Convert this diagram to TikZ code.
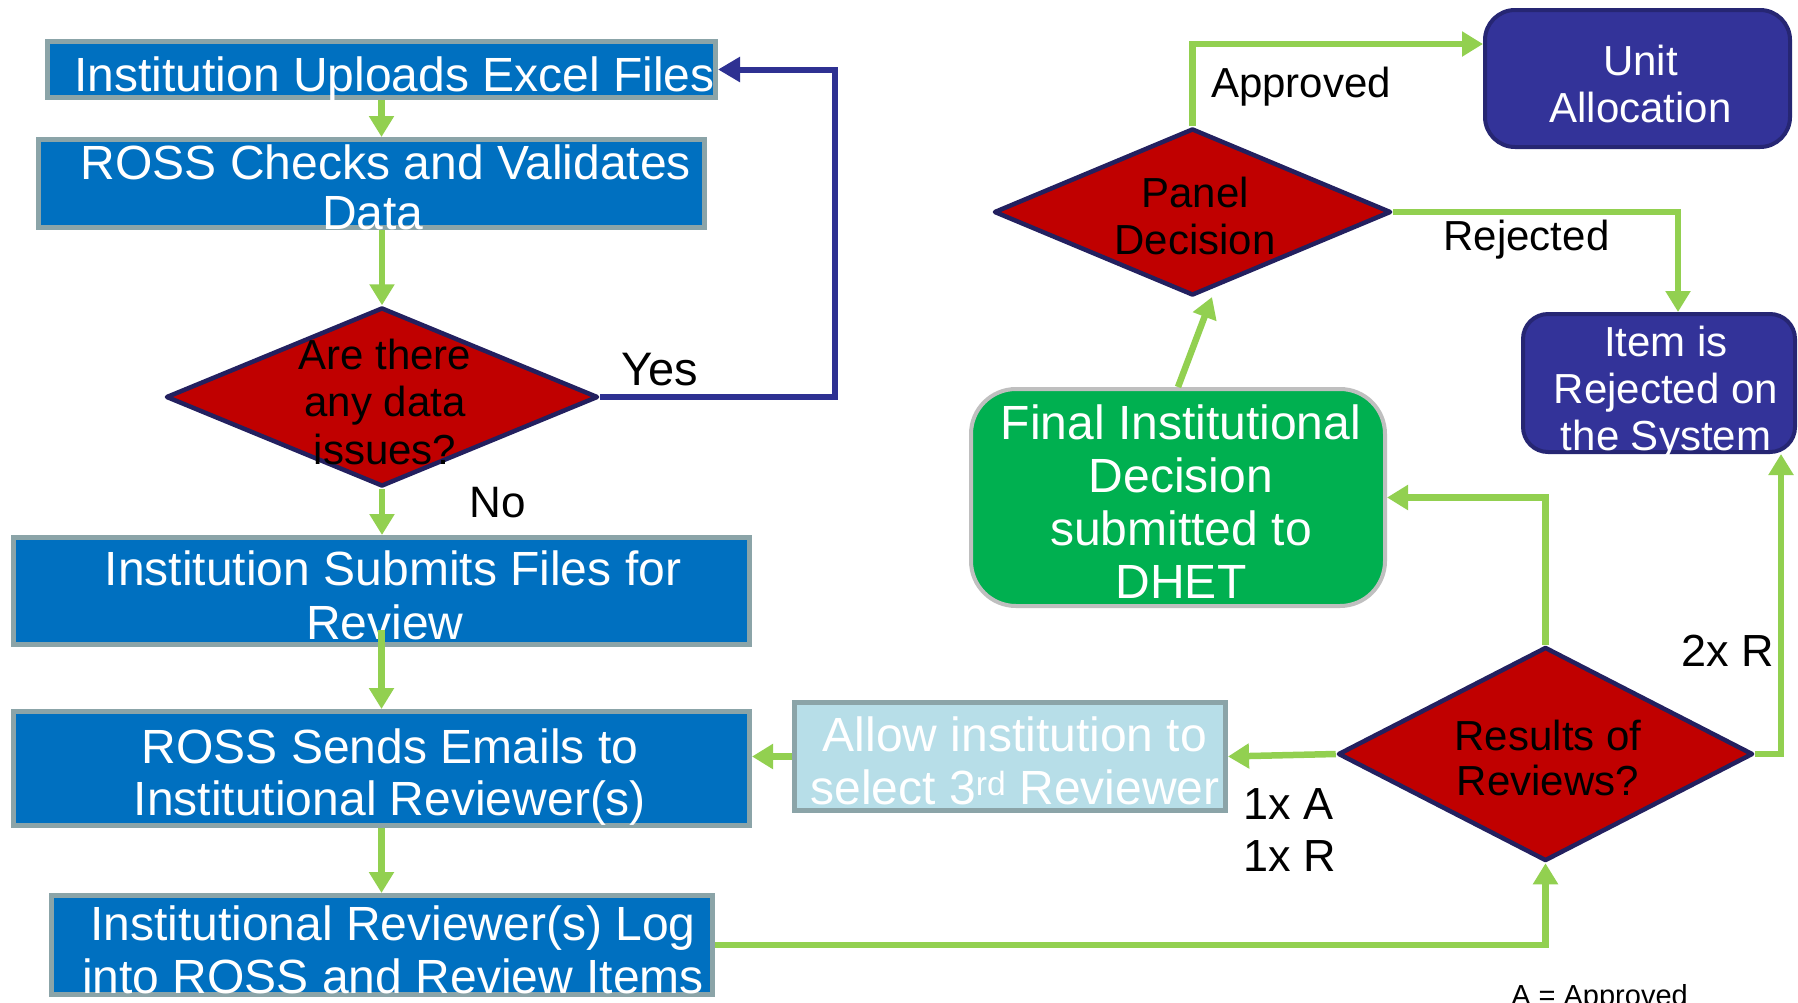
\documentclass[tikz,border=0pt]{standalone}
\usepackage{fontspec}
\setmainfont{Liberation Sans}
\usetikzlibrary{arrows.meta,shapes.geometric,calc}
\definecolor{bluefill}{HTML}{0070C0}
\definecolor{boxborder}{HTML}{8BA4A8}
\definecolor{arrowgreen}{HTML}{92D050}
\definecolor{redfill}{HTML}{C00000}
\definecolor{navyborder}{HTML}{23205F}
\definecolor{lineblue}{HTML}{2E3192}
\definecolor{purplefill}{HTML}{333399}
\definecolor{purpleborder}{HTML}{262673}
\definecolor{finalfill}{HTML}{00B050}
\definecolor{finalborder}{HTML}{BFBFBF}
\definecolor{allowfill}{HTML}{B7DEE8}
\newcommand\lstr{\rule[-0.25em]{0pt}{1.216em}}
\newcommand\myfs[2]{\fontsize{#1}{#2}\selectfont\lineskiplimit=-\maxdimen}
\begin{document}
\begin{tikzpicture}[x=1pt,y=-1pt,
  box/.style={draw=boxborder, line width=5pt, fill=bluefill, rectangle, inner sep=0pt},
  dia/.style={diamond, draw=navyborder, line width=4.5pt, fill=redfill, inner sep=0pt, line join=round},
  rbox/.style={rectangle, rounded corners=30pt, draw=purpleborder, fill=purplefill, line width=4pt, inner sep=0pt},
  txt/.style={inner sep=0pt, align=center},
  garrow/.style={draw=arrowgreen, line width=6.5pt, -{Triangle[length=21pt,width=24pt]}},
  barrow/.style={draw=lineblue, line width=6pt, -{Triangle[length=22pt,width=24pt]}}
]
\fill[white] (0,0) rectangle (1798,1002);
\useasboundingbox (0,0) rectangle (1798,1002);

% shapes
\node[box, minimum width=668pt, minimum height=56pt] (b1) at (381.5,69.5) {};
\node[box, minimum width=666pt, minimum height=88pt] (b2) at (371.5,183.5) {};
\node[box, minimum width=736pt, minimum height=107pt] (b3) at (381.5,591) {};
\node[box, minimum width=736pt, minimum height=114pt] (b4) at (381.5,768.5) {};
\node[box, minimum width=661pt, minimum height=99pt] (b5) at (382,945) {};
\node[box, fill=allowfill, minimum width=431pt, minimum height=108pt] (al) at (1010,756.5) {};
\node[dia, minimum width=432pt, minimum height=179pt] (d1) at (382,397) {};
\node[dia, minimum width=397pt, minimum height=167pt] (pd) at (1192.5,212) {};
\node[dia, minimum width=415pt, minimum height=214pt] (rs) at (1545.5,754) {};
\node[rbox, minimum width=305pt, minimum height=137pt] (un) at (1637.5,78.5) {};
\node[rbox, rounded corners=25pt, minimum width=272pt, minimum height=138pt] (it) at (1659,383) {};
\node[rbox, rounded corners=45pt, draw=finalborder, fill=finalfill, minimum width=414pt, minimum height=217pt] (fi) at (1178,497.5) {};

% texts
\node[txt, text=white, font=\myfs{48}{52}] (t1) at (394.5,74) {\lstr Institution Uploads Excel Files};
\node[txt, text=white, font=\myfs{48}{50}] (t2) at (373,187) {\lstr\hspace*{26pt}ROSS Checks and Validates\\\lstr Data};
\node[txt, text=white, font=\myfs{48}{54}] (t3) at (385,595) {\lstr\hspace*{16pt}Institution Submits Files for\\\lstr Review};
\node[txt, text=white, font=\myfs{48}{52}] (t4) at (390,772.5) {\lstr ROSS Sends Emails to\\\lstr Institutional Reviewer(s)};
\node[txt, text=white, font=\myfs{48}{52.5}] (t5) at (393,950) {\lstr Institutional Reviewer(s) Log\\\lstr into ROSS and Review Items};
\node[txt, text=white, font=\myfs{48}{53.5}] (t6) at (1015,761) {\lstr Allow institution to\\\lstr select 3\textsuperscript{rd} Reviewer};
\node[txt, text=white, font=\myfs{48}{53}] (t7) at (1181,502) {\lstr Final Institutional\\\lstr Decision\\\lstr submitted to\\\lstr DHET};
\node[txt, font=\myfs{42}{47.7}] (t8) at (385,401.7) {\lstr Are there\\\lstr any data\\\lstr issues?};
\node[txt, font=\myfs{42}{46.5}] (t9) at (1195,216) {\lstr Panel\\\lstr Decision};
\node[txt, font=\myfs{42}{45}] (t10) at (1548,757.5) {\lstr Results of\\\lstr Reviews?};
\node[txt, text=white, font=\myfs{42}{47}] (t11) at (1640.5,84) {\lstr Unit\\\lstr Allocation};
\node[txt, text=white, font=\myfs{42}{47}] (t12) at (1666,388.5) {\lstr Item is\\\lstr Rejected on\\\lstr the System};
\node[txt, font=\myfs{47}{50}] (lyes) at (660,369) {\lstr Yes};
\node[txt, font=\myfs{44}{48}] (lno) at (498,501.5) {\lstr No};
\node[txt, font=\myfs{42}{46}] (lapp) at (1301,82.5) {\lstr Approved};
\node[txt, font=\myfs{42}{46}] (lrej) at (1526.5,235) {\lstr Rejected};
\node[txt, font=\myfs{45}{48}] (l2r) at (1728,650) {\lstr 2x R};
\node[txt, align=left, anchor=west, font=\myfs{45}{52}] (l1a) at (1243,829) {\lstr 1x A\\\lstr 1x R};
\node[txt, font=\myfs{29}{32}] (leg) at (1599.5,995.4) {\lstr A = Approved};

% helper coordinates
\coordinate (bx) at (835,0);
\coordinate (ap) at (0,44);
\coordinate (rj) at (1678,0);
\coordinate (rx) at (1781,0);
\coordinate (pdin) at (1212,297);

% connectors
\draw[garrow] (b1.south) -- (b1.south |- b2.north);
\draw[garrow] (b2.south -| d1.north) -- (d1.north);
\draw[garrow] (d1.south) -- (d1.south |- b3.north);
\draw[garrow] ([yshift=17pt]b3.south) -- (b4.north);
\draw[garrow] (b4.south) -- (b4.south |- b5.north);
\draw[garrow] (b5.east) -| (rs.south);
\draw[garrow] (rs.north) |- (fi.east);
\draw[garrow] (rs.east) -| (it.south -| rx);
\draw[garrow] (pd.east) -| (it.north -| rj);
\draw[garrow] (pd.north) |- (ap -| un.west);
\draw[garrow] (fi.north) -- (pdin);
\draw[garrow] (rs.west) -- (al.east);
\draw[garrow] (al.west) -- (al.west -| b4.east);
\draw[barrow] (d1.east) -- (d1.east -| bx) |- (b1.east);
\end{tikzpicture}
\end{document}
